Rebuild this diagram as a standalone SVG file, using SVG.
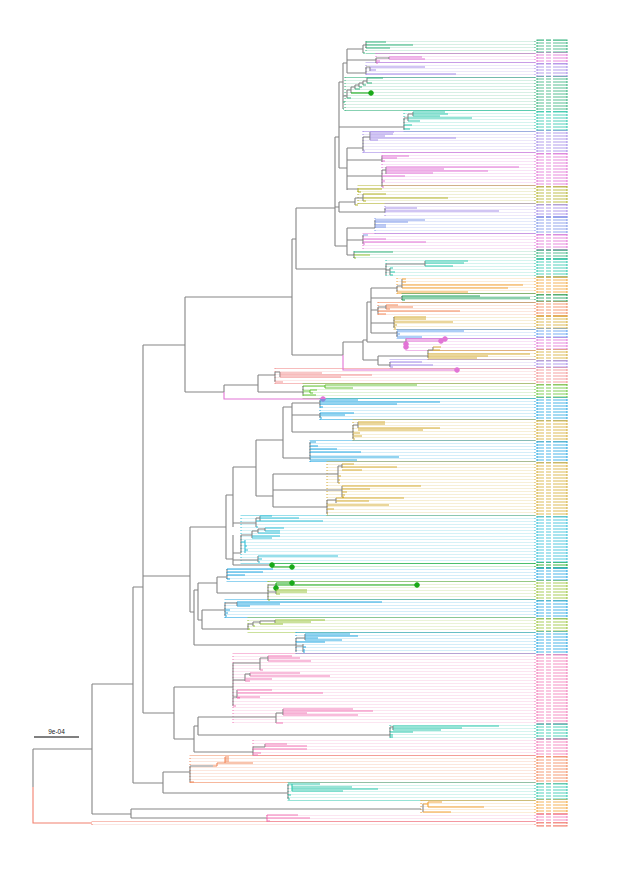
<svg xmlns="http://www.w3.org/2000/svg" width="617" height="869" viewBox="0 0 617 869">
<defs>
<pattern id="stripe" width="4" height="3" patternUnits="userSpaceOnUse"><rect width="4" height="2" fill="#fff"/></pattern>
<pattern id="lbl" width="4" height="3" patternUnits="userSpaceOnUse"><rect y="2" width="4" height="1" fill="#fff"/></pattern>
</defs>
<style>
path.t{fill:none;stroke-width:1.1}
path.g{fill:none;stroke:#858585;stroke-width:1.1}
.ld{fill-opacity:.2;stroke:none}
.lb{fill-opacity:.42;stroke:none}
circle{stroke:none}
.G1{stroke:#36b37e;fill:#36b37e}
.PK{stroke:#e274d6;fill:#e274d6}
.LV{stroke:#a48be8;fill:#a48be8}
.PW{stroke:#7f97ea;fill:#7f97ea}
.TL{stroke:#2fc7ad;fill:#2fc7ad}
.OL{stroke:#b3b32d;fill:#b3b32d}
.OR{stroke:#f2a43a;fill:#f2a43a}
.DG{stroke:#1aa05a;fill:#1aa05a}
.SO{stroke:#f2895c;fill:#f2895c}
.GD{stroke:#d6ad38;fill:#d6ad38}
.BL{stroke:#5c9ef0;fill:#5c9ef0}
.SA{stroke:#f29090;fill:#f29090}
.LM{stroke:#68c53a;fill:#68c53a}
.SKY{stroke:#27a8e2;fill:#27a8e2}
.CY{stroke:#33bfd8;fill:#33bfd8}
.G2{stroke:#19a919;fill:#19a919}
.YG{stroke:#98c33a;fill:#98c33a}
.PK2{stroke:#f27bb8;fill:#f27bb8}
.RD{stroke:#f2806e;fill:#f2806e}
.scale{font-family:"Liberation Sans",Arial,sans-serif;font-size:6.5px;fill:#222}
</style>
<rect width="617" height="869" fill="#fff"/>
<g id="leaders">
<rect class="ld G1" x="366" y="40" width="169" height="13"/>
<rect class="ld PK" x="376" y="53" width="159" height="10"/>
<rect class="ld LV" x="366" y="63" width="169" height="14"/>
<rect class="ld G1" x="345" y="77" width="190" height="34"/>
<rect class="ld TL" x="404" y="111" width="131" height="20"/>
<rect class="ld LV" x="363" y="131" width="172" height="22"/>
<rect class="ld PK" x="382" y="153" width="153" height="33"/>
<rect class="ld OL" x="358" y="186" width="177" height="18"/>
<rect class="ld LV" x="385" y="204" width="150" height="13"/>
<rect class="ld PW" x="375" y="217" width="160" height="17"/>
<rect class="ld PK" x="363" y="234" width="172" height="16"/>
<rect class="ld G1" x="354" y="250" width="181" height="9"/>
<rect class="ld TL" x="386" y="259" width="149" height="18"/>
<rect class="ld OR" x="397" y="277" width="138" height="17"/>
<rect class="ld DG" x="402" y="294" width="133" height="8"/>
<rect class="ld SO" x="378" y="302" width="157" height="14"/>
<rect class="ld GD" x="394" y="316" width="141" height="13"/>
<rect class="ld BL" x="397" y="329" width="138" height="9"/>
<rect class="ld PK" x="406" y="338" width="129" height="12"/>
<rect class="ld GD" x="428" y="350" width="107" height="10"/>
<rect class="ld LV" x="390" y="360" width="145" height="8"/>
<rect class="ld SA" x="275" y="368" width="260" height="16"/>
<rect class="ld LM" x="303" y="384" width="232" height="14"/>
<rect class="ld SKY" x="320" y="398" width="215" height="22"/>
<rect class="ld GD" x="353" y="420" width="182" height="21"/>
<rect class="ld SKY" x="310" y="441" width="225" height="21"/>
<rect class="ld GD" x="327" y="462" width="208" height="54"/>
<rect class="ld CY" x="241" y="516" width="294" height="47"/>
<rect class="ld G2" x="272" y="563" width="263" height="5"/>
<rect class="ld SKY" x="227" y="568" width="308" height="13"/>
<rect class="ld YG" x="268" y="581" width="267" height="19"/>
<rect class="ld SKY" x="225" y="600" width="310" height="18"/>
<rect class="ld YG" x="248" y="618" width="287" height="14"/>
<rect class="ld SKY" x="296" y="632" width="239" height="22"/>
<rect class="ld PK2" x="233" y="654" width="302" height="70"/>
<rect class="ld TL" x="390" y="724" width="145" height="15"/>
<rect class="ld PK2" x="253" y="739" width="282" height="17"/>
<rect class="ld SO" x="190" y="756" width="345" height="27"/>
<rect class="ld TL" x="288" y="783" width="247" height="17"/>
<rect class="ld OR" x="421" y="800" width="114" height="14"/>
<rect class="ld PK2" x="267" y="814" width="268" height="8"/>
<rect class="ld RD" x="92" y="822" width="443" height="4"/>
<rect x="90" y="38" width="446" height="790" fill="url(#stripe)"/>
</g>
<g id="tip-labels">
<rect class="lb G1" x="537" y="40" width="30" height="13"/>
<rect class="lb PK" x="537" y="53" width="30" height="10"/>
<rect class="lb LV" x="537" y="63" width="30" height="14"/>
<rect class="lb G1" x="537" y="77" width="30" height="34"/>
<rect class="lb TL" x="537" y="111" width="30" height="20"/>
<rect class="lb LV" x="537" y="131" width="30" height="22"/>
<rect class="lb PK" x="537" y="153" width="30" height="33"/>
<rect class="lb OL" x="537" y="186" width="30" height="18"/>
<rect class="lb LV" x="537" y="204" width="30" height="13"/>
<rect class="lb PW" x="537" y="217" width="30" height="17"/>
<rect class="lb PK" x="537" y="234" width="30" height="16"/>
<rect class="lb G1" x="537" y="250" width="30" height="9"/>
<rect class="lb TL" x="537" y="259" width="30" height="18"/>
<rect class="lb OR" x="537" y="277" width="30" height="17"/>
<rect class="lb DG" x="537" y="294" width="30" height="8"/>
<rect class="lb SO" x="537" y="302" width="30" height="14"/>
<rect class="lb GD" x="537" y="316" width="30" height="13"/>
<rect class="lb BL" x="537" y="329" width="30" height="9"/>
<rect class="lb PK" x="537" y="338" width="30" height="12"/>
<rect class="lb GD" x="537" y="350" width="30" height="10"/>
<rect class="lb LV" x="537" y="360" width="30" height="8"/>
<rect class="lb SA" x="537" y="368" width="30" height="16"/>
<rect class="lb LM" x="537" y="384" width="30" height="14"/>
<rect class="lb SKY" x="537" y="398" width="30" height="22"/>
<rect class="lb GD" x="537" y="420" width="30" height="21"/>
<rect class="lb SKY" x="537" y="441" width="30" height="21"/>
<rect class="lb GD" x="537" y="462" width="30" height="54"/>
<rect class="lb CY" x="537" y="516" width="30" height="47"/>
<rect class="lb G2" x="537" y="563" width="30" height="5"/>
<rect class="lb SKY" x="537" y="568" width="30" height="13"/>
<rect class="lb YG" x="537" y="581" width="30" height="19"/>
<rect class="lb SKY" x="537" y="600" width="30" height="18"/>
<rect class="lb YG" x="537" y="618" width="30" height="14"/>
<rect class="lb SKY" x="537" y="632" width="30" height="22"/>
<rect class="lb PK2" x="537" y="654" width="30" height="70"/>
<rect class="lb TL" x="537" y="724" width="30" height="15"/>
<rect class="lb PK2" x="537" y="739" width="30" height="17"/>
<rect class="lb SO" x="537" y="756" width="30" height="27"/>
<rect class="lb TL" x="537" y="783" width="30" height="17"/>
<rect class="lb OR" x="537" y="800" width="30" height="14"/>
<rect class="lb PK2" x="537" y="814" width="30" height="8"/>
<rect class="lb RD" x="537" y="822" width="30" height="4"/>
<rect x="536" y="38" width="34" height="790" fill="url(#lbl)"/>
<rect x="544" y="38" width="2" height="790" fill="#fff"/>
<rect x="551" y="38" width="2" height="790" fill="#fff"/>
</g>
<g id="connectors">
<path class="g" d="M33 749V787M33 749H92M92 684V814M92 684H133M92 814H131M131 809V818M131 809H421M131 818H267M423 804V812"/>
<path class="g" d="M133 587V783M133 587H143M133 783H163M163 772V793M163 772H190M190 766V782M190 766H213M163 793H288M288 784V799"/>
<path class="g" d="M143 345V713M143 345H185M143 576H190M143 713H174M174 687V739M174 687H233M174 739H194M233 663V706M233 663H260M260 658V670M260 658H268M268 656V661M233 680H245M245 674V681M245 674H250M250 673V676M233 697H237M237 690V698"/>
<path class="g" d="M194 726V752M194 726H198M198 717V735M198 717H276M276 713V723M276 713H283M283 709V715M198 735H390M390 727V737M390 727H393M393 726V730M194 752H253M253 747V755M253 747H265M265 744V747"/>
<path class="g" d="M185 297V392M185 297H292M185 392H224M224 385V392M224 385H258M258 375V392M258 375H275M275 372V382M275 372H280M280 372V377M258 392H303M303 386V395"/>
<path class="g" d="M292 239V355M292 239H296M292 355H343M343 342V355M343 342H363M363 340V360M363 340H367M363 360H378M378 356V365M378 356H428M428 350V358M428 350H433M433 347V350M378 365H390M390 362V367"/>
<path class="g" d="M367 302V342M367 302H371M367 342H406M406 339V348M371 288V333M371 288H397M397 286V292M397 286H402M402 279V288M371 298H402M402 296V300M371 310H378M378 307V314M378 307H386M386 305V309M371 323H394M394 317V328M371 333H397M397 331V337"/>
<path class="g" d="M296 208V269M296 208H335M296 269H386M386 264V275M386 264H425M425 261V266M386 270H390M390 268V275"/>
<path class="g" d="M335 137V246M335 137H339M335 207H339M339 202V212M339 202H355M355 198V205M355 198H363M363 194V201M339 212H385M385 208V212M335 246H347M347 228V255M347 228H375M375 220V228M347 240H363M363 235V244M347 255H354M354 252V258"/>
<path class="g" d="M339 82V168M339 82H343M339 127H404M339 168H347M343 63V109M343 63H347M347 49V73M347 49H363M363 45V53M363 45H366M366 42V48M347 60H376M376 58V63M376 58H389M389 57V59M347 73H366M366 67V74M366 67H370M370 67V71"/>
<path class="g" d="M343 96H347M347 90V98M347 90H351M351 87V93M351 87H355M355 85V89M355 85H359M359 83V87M359 83H363M363 81V85M363 81H367M367 78V83M404 118V130M404 118H408M408 114V121M408 114H413M413 112V116"/>
<path class="g" d="M347 148V190M347 148H363M363 137V151M363 137H370M370 132V140M347 160H382M382 156V162M347 176H382M382 170V187M382 170H386M386 167V174M347 189H358"/>
<path class="g" d="M190 527V612M190 527H226M226 495V559M226 495H233M233 467V527M233 467H256M256 440V496M256 440H283M283 407V458M283 407H292M292 403V432M292 403H320M320 400V407M292 415H320M320 413V418M292 432H353M353 425V439M353 425H358M358 422V428M283 458H310M310 442V460M256 496H273M273 474V507M273 474H338M338 466V483M338 466H342M342 464V468M273 490H342M342 486V497M273 507H327M327 500V514M327 500H336M336 498V503M233 523H256M256 518V527M256 518H260M260 516V521M226 559H233M233 535V565M233 553H241M241 535V553M241 535H252M252 531V538M252 531H258M258 529V533M258 529H265M265 528V531M233 560H258M258 556V562M233 565H272"/>
<path class="g" d="M190 612H194M194 590V645M194 590H198M198 583V620M198 583H217M217 577V593M217 577H227M227 569V579M217 593H268M268 585V600M268 585H276M268 592H276M276 590V594M198 620H202M202 610V629M202 610H225M225 603V616M225 603H237M237 602V606M202 629H248M248 624V629M248 624H253M253 622V626M253 622H260M260 621V624M260 621H275M275 620V623M194 645H296M296 638V652M296 638H305M305 634V640M296 646H303M303 644V652"/>
</g>
<g id="clade-root">
<path class="t RD" d="M33 787V823H92"/>
</g>
<g id="clade-top">
<path class="t G1" d="M366 42H386M366 45H413M366 48H390M363 53H365M367 78H383M367 83H372M363 85H366M359 87H362M355 89H360M347 98H351M343 102H345M343 109H344M354 252H393"/>
<path class="t PK" d="M389 57H422M389 59H425M376 61H380M376 63H378M382 156H409M382 158H397M382 161H385M386 167H519M386 169H444M386 171H488M386 173H433M382 176H405M382 181H385M382 187H384M363 239H386M363 242H426M363 244H365"/>
<path class="t LV" d="M370 67H425M370 70H376M366 74H456M370 132H394M370 134H393M370 136H385M370 138H456M370 140H378M363 151H365M385 208H417M385 211H499"/>
<path class="t G2" d="M351 93H371"/>
<circle class="G2" cx="371" cy="93" r="2.3"/>
<path class="t TL" d="M413 112H445M413 114H448M413 116H440M408 118H472M408 121H420M404 125H412M404 129H410M425 261H468M425 263H464M425 266H453M390 268H393M390 272H395M390 275H393"/>
<path class="t OL" d="M358 189H382M358 189V192M358 192H361M363 194H386M363 198H448M363 201H366M355 205H358"/>
<path class="t PW" d="M375 220H425M375 222H408M375 225H386M375 227H386M363 235H368"/>
<path class="t YG" d="M354 255H370M354 258H356"/>
</g>
<g id="clade-mid">
<path class="t OR" d="M402 279H406M402 282H406M402 285H523M402 288H508M397 292H468"/>
<path class="t DG" d="M402 296H480M402 298H530M402 300H405"/>
<path class="t SO" d="M386 305H398M386 307H413M386 309H390M378 311H460M378 314H386"/>
<path class="t GD" d="M394 317H426M394 319H426M394 322H453M394 325H397M394 328H396M433 347H441M433 350H440M428 354H530M428 356H488M428 358H477"/>
<path class="t BL" d="M397 331H464M397 334H400M397 337H422"/>
<path class="t PK" d="M406 339H445M406 341H441M343 355V370H457M224 392V399H323"/>
<circle class="PK" cx="445" cy="339" r="2.3"/>
<circle class="PK" cx="441" cy="341" r="2.3"/>
<circle class="PK" cx="406" cy="344" r="2.3"/>
<circle class="PK" cx="406" cy="347" r="2.3"/>
<circle class="PK" cx="457" cy="370" r="2.3"/>
<circle class="PK" cx="323" cy="399" r="2.3"/>
<path class="t LV" d="M390 362H422M390 365H433M390 367H393"/>
<path class="t SA" d="M280 373H322M280 375H372M280 377H341M275 382H283"/>
<path class="t LM" d="M303 386H325M325 385V388M325 385H417M325 388H353M303 391H310M310 390V393M310 390H317M310 393H313M303 395H316"/>
</g>
<g id="clade-lower">
<path class="t SKY" d="M320 400H358M320 402H440M320 404H397M320 407H323M320 413H354M320 415H345M320 418H322M310 442H316M310 446H318M310 449H337M310 452H361M310 457H399M310 460H357M227 569H273M227 572H263M227 575H245M227 579H230M237 602H382M237 604H280M237 606H250M225 610H230M225 613H228M225 616H227M305 634H350M305 636H358M305 638H318M305 640H342M296 642H325M303 647H306M303 650H305M303 652H305"/>
<path class="t GD" d="M358 422H385M358 424H385M358 428H440M358 430H423M353 433H360M353 436H362M353 439H355M342 464H354M342 467H397M342 470H362M338 476H341M338 480H340M338 483H340M342 486H421M342 489H370M342 492H347M342 495H345M342 497H344M336 498H404M336 501H369M327 505H389M327 509H334M327 514H328"/>
<path class="t CY" d="M260 516H272M260 518H299M256 521H323M256 527H258M265 528H284M265 531H280M258 533H280M252 536H280M252 538H272M241 542H245M245 540V553M245 546H247M245 550H248M258 556H338M258 559H262M258 562H260"/>
<path class="t G2" d="M272 565V567H292M276 583V588M276 583H292M276 585H417"/>
<circle class="G2" cx="272" cy="565" r="2.3"/>
<circle class="G2" cx="292" cy="567" r="2.3"/>
<circle class="G2" cx="292" cy="583" r="2.3"/>
<circle class="G2" cx="417" cy="585" r="2.3"/>
<circle class="G2" cx="276" cy="588" r="2.3"/>
<path class="t YG" d="M276 590H307M276 592H307M276 594H280M268 600H270M275 620H325M275 622H311M260 624H283M253 626H255M248 629H250"/>
</g>
<g id="clade-bottom">
<path class="t PK2" d="M268 656H292M268 658H300M268 661H311M260 670H263M250 673H300M250 676H330M245 679H272M245 681H250M237 690H272M237 693H323M237 697H260M237 698H240M233 706H236M283 709H353M283 711H373M283 713H307M283 715H358M276 723H283M265 744H287M265 746H307M253 749H307M253 753H261M253 755H258M267 815V821M267 815H298M267 818H310M267 821H270"/>
<path class="t TL" d="M393 726H499M393 728H462M393 730H441M390 732H413M390 735H393M390 737H393M288 784H292M292 784V791M292 784H320M292 787H352M292 789H378M292 791H343M288 795H291M288 799H290"/>
<path class="t SO" d="M213 766H217M217 763V766M217 763H225M225 757V763M225 757H229M225 759H229M225 761H229M225 763H253M190 782H194"/>
<path class="t OR" d="M423 804H428M428 802V807M428 802H442M428 807H484M423 812H451"/>
</g>
<g id="scale-bar">
<path d="M34 737H79" stroke="#000" stroke-width="1" fill="none"/>
<text class="scale" x="56.5" y="734" text-anchor="middle">9e-04</text>
</g>
</svg>
